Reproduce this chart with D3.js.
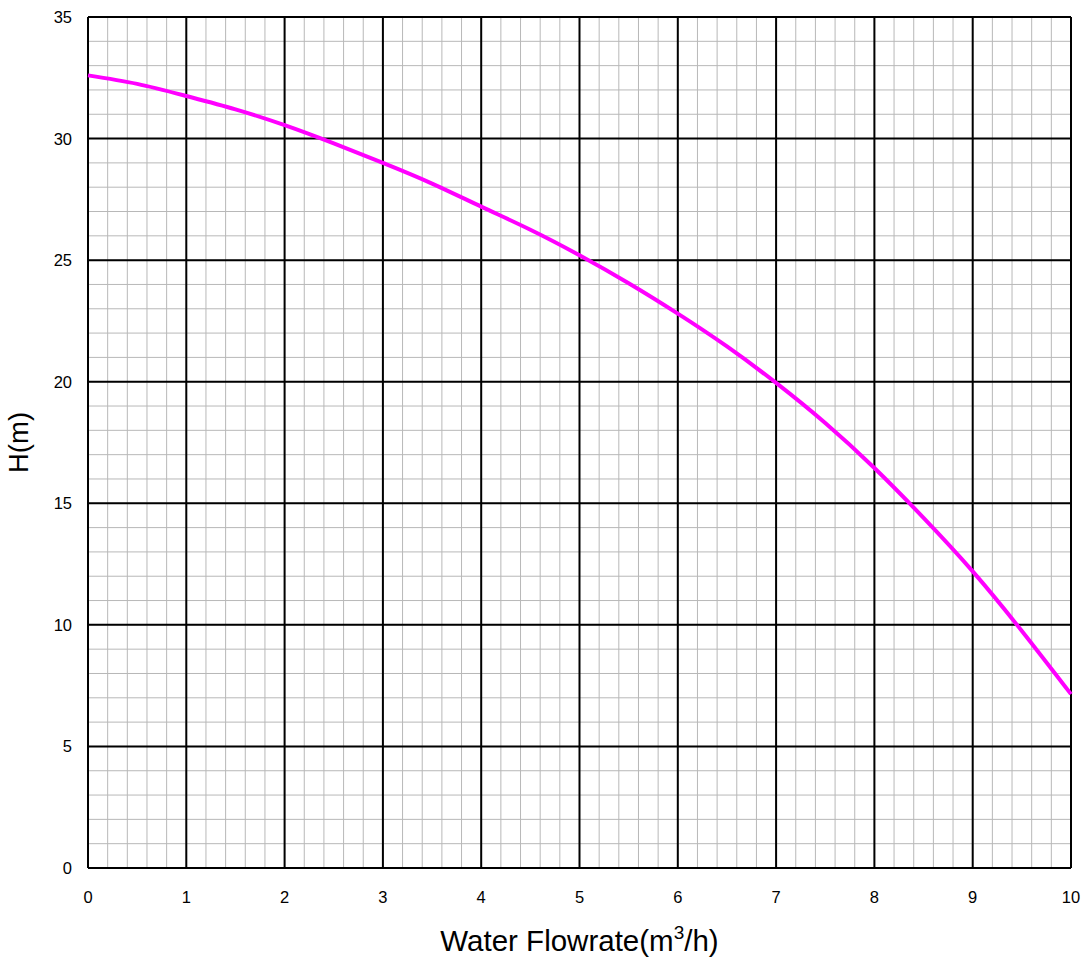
<!DOCTYPE html>
<html><head><meta charset="utf-8">
<script src="https://cdn.jsdelivr.net/npm/d3@7"></script>
<style>body{margin:0;background:#fff}svg{display:block}text{font-family:"Liberation Sans",Arial,sans-serif;fill:#000}</style>
</head><body><svg id="c" width="1088" height="960"></svg>
<script>
const flow = [0,0.5,1,1.5,2,2.5,3,3.5,4,4.5,5,5.5,6,6.5,7,7.5,8,8.5,9,9.5,10];
const head = [32.6,32.25,31.75,31.2,30.55,29.8,29.0,28.15,27.2,26.25,25.2,24.05,22.8,21.45,19.95,18.3,16.45,14.4,12.2,9.75,7.15];
const xTicks = [0,1,2,3,4,5,6,7,8,9,10];
const yTicks = [0,5,10,15,20,25,30,35];
const xMinor = d3.range(0, 10.001, 0.2);
const yMinor = d3.range(0, 35.001, 1);

const svg = d3.select("#c");
const L=88,R=1071,T=17,B=868;
const x = d3.scaleLinear().domain([0,10]).range([L,R]);
const y = d3.scaleLinear().domain([0,35]).range([B,T]);

const g = svg.append("g");
g.selectAll(".mx").data(xMinor).join("line").attr("x1",d=>x(d)).attr("x2",d=>x(d)).attr("y1",T).attr("y2",B).attr("stroke","#b8b8b8").attr("stroke-width",1);
g.selectAll(".my").data(yMinor).join("line").attr("y1",d=>y(d)).attr("y2",d=>y(d)).attr("x1",L).attr("x2",R).attr("stroke","#b8b8b8").attr("stroke-width",1);
g.selectAll(".Mx").data(xTicks).join("line").attr("x1",d=>x(d)).attr("x2",d=>x(d)).attr("y1",T).attr("y2",B).attr("stroke","#000").attr("stroke-width",2);
g.selectAll(".My").data(yTicks).join("line").attr("y1",d=>y(d)).attr("y2",d=>y(d)).attr("x1",L).attr("x2",R).attr("stroke","#000").attr("stroke-width",2);

svg.append("path").datum(flow.map((f,i)=>[f,head[i]]))
  .attr("d", d3.line().x(d=>x(d[0])).y(d=>y(d[1])).curve(d3.curveNatural))
  .attr("fill","none").attr("stroke","#ff00ff").attr("stroke-width",4);

svg.append("g").selectAll("text").data(xTicks).join("text")
  .attr("x",d=>x(d)).attr("y",903).attr("text-anchor","middle").attr("font-size",16.5).text(d=>d);
svg.append("g").selectAll("text").data(yTicks).join("text")
  .attr("x",L-16).attr("y",d=>y(d)+6).attr("text-anchor","end").attr("font-size",16.5).text(d=>d);

const xt = svg.append("text").attr("x",(L+R)/2).attr("y",951).attr("text-anchor","middle").attr("font-size",29.5);
xt.append("tspan").text("Water Flowrate(m");
xt.append("tspan").attr("dy",-12).attr("font-size",19).text("3");
xt.append("tspan").attr("dy",12).text("/h)");
svg.append("text").attr("transform",`translate(28,${(T+B)/2}) rotate(-90)`).attr("text-anchor","middle").attr("font-size",27.5).text("H(m)");
</script></body></html>
